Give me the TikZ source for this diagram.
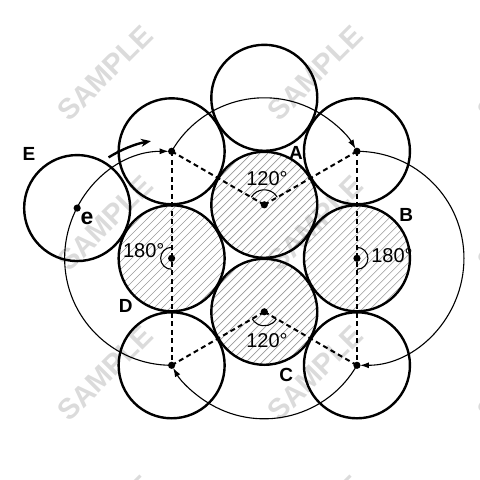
\documentclass[tikz,border=0pt]{standalone}
\usepackage{fontspec}
\setmainfont{Liberation Sans}
\usetikzlibrary{arrows.meta,calc}
\begin{document}
\begin{tikzpicture}[x=1pt,y=1pt,
  ball/.style={line width=2.4pt},
  hatch/.style={black!40, line width=0.6pt},
  link/.style={line width=2pt, dash pattern=on 5pt off 3.5pt},
  track/.style={line width=1.1pt, -{Latex[length=9pt,width=6pt]}, shorten >=3pt},
  anglemark/.style={line width=1.1pt},
  swing/.style={line width=2.4pt, -{Stealth[length=10pt,width=8pt]}},
  lab/.style={font=\fontsize{19}{22}\selectfont\bfseries, inner sep=0pt},
  deg/.style={font=\fontsize{20}{23}\selectfont, inner sep=0pt},
  wm/.style={font=\fontsize{29}{32}\selectfont\bfseries, text=black!14, rotate=45, inner sep=0pt}
]
\useasboundingbox (-264.3,-221.7) rectangle (215.7,258.3);
% watermarks
\begin{scope}
  \clip (-264.3,-221.7) rectangle (215.7,258.3);
  \foreach \x in {105,315,525}
    \foreach \y in {73,223,373,523}
      \node[wm] (wm-\x-\y) at (\x-264.3, 258.3-\y) {SAMPLE};
\end{scope}
% centres
\coordinate (O) at (0,0);
\coordinate (cT) at (0,53.5);
\coordinate (cB) at (0,-53.5);
\coordinate (cL) at (-92.66,0);
\coordinate (cR) at (92.66,0);
\coordinate (pTop) at (0,160.5);
\coordinate (pUL) at (-92.66,107);
\coordinate (pUR) at (92.66,107);
\coordinate (pLL) at (-92.66,-107);
\coordinate (pLR) at (92.66,-107);
\coordinate (e) at ($(cL)+(152:107)$);
% hatching
\foreach \c in {cT,cB,cL,cR}{
  \begin{scope}
    \clip (\c) circle (53);
    \foreach \k in {-10,...,10}
      \draw[hatch] ($(\c)+(\k*8-70,-70)$) -- ++(140,140);
  \end{scope}
}
% circles
\foreach \c in {cT,cB,cL,cR,pTop,pUL,pUR,pLL,pLR,e}
  \draw[ball] (\c) circle (53);
% dashed links
\draw[link] (cT) -- (pUL);
\draw[link] (cT) -- (pUR);
\draw[link] (pUL) -- (pLL);
\draw[link] (pUR) -- (pLR);
\draw[link] (cB) -- (pLL);
\draw[link] (cB) -- (pLR);
% tracks
\draw[track] (pLL) arc[start angle=270,end angle=90,radius=107];
\draw[track] (pUL) arc[start angle=150,end angle=30,radius=107];
\draw[track] (pUR) arc[start angle=90,end angle=-90,radius=107];
\draw[track] (pLR) arc[start angle=-30,end angle=-150,radius=107];
% angle marks
\draw[anglemark] ($(cT)+(30:15)$) arc[start angle=30,end angle=150,radius=15];
\draw[anglemark] ($(cB)+(-30:14)$) arc[start angle=-30,end angle=-150,radius=14];
\draw[anglemark] ($(cL)+(90:11)$) arc[start angle=90,end angle=270,radius=11];
\draw[anglemark] ($(cR)+(90:11)$) arc[start angle=90,end angle=-90,radius=11];
% swing arrow
\coordinate (sw0) at ($(cL)+(122:119)$);
\draw[swing] (sw0) arc[start angle=122,end angle=100,radius=119];
% dots
\foreach \c in {pUL,pUR,pLL,pLR,cT,cB,cL,cR,e}
  \fill (\c) circle (3.6);
% labels
\node[lab] (labE) at (-235.3,104.3) {E};
\node[lab, font=\fontsize{23}{26}\selectfont\bfseries] (labe) at (-177.3,39.8) {e};
\node[lab] (labA) at (31.7,105.3) {A};
\node[lab] (labB) at (141.9,43.3) {B};
\node[lab] (labC) at (21.9,-116.2) {C};
\node[lab] (labD) at (-138.5,-47.7) {D};
\node[deg] (dL) at (-120.6,7.5) {180°};
\node[deg] (dR) at (127.7,2.5) {180°};
\node[deg] (dT) at (2.7,79.5) {120°};
\node[deg] (dB) at (2.7,-82) {120°};
\end{tikzpicture}
\end{document}
